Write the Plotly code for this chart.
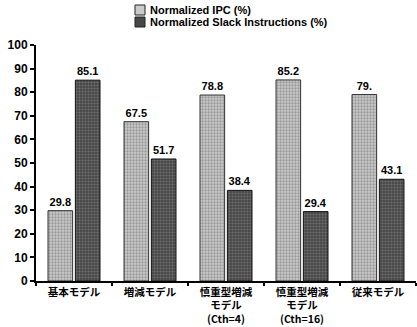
import plotly.graph_objects as go

categories = ["基本モデル", "増減モデル", "慎重型増減<br>モデル<br>(Cth=4)", "慎重型増減<br>モデル<br>(Cth=16)", "従来モデル"]
ipc = [29.8, 67.5, 78.8, 85.2, 79]
slack = [85.1, 51.7, 38.4, 29.4, 43.1]
ipc_labels = ["29.8", "67.5", "78.8", "85.2", "79."]
slack_labels = ["85.1", "51.7", "38.4", "29.4", "43.1"]
series_names = ["Normalized IPC (%)", "Normalized Slack Instructions (%)"]

ipc_marker = dict(color="#cacaca", line=dict(color="#333", width=1),
                  pattern=dict(shape=".", fgcolor="#666666", size=3, solidity=0.45))
slack_marker = dict(color="#474747", line=dict(color="#111", width=1),
                    pattern=dict(shape=".", fgcolor="#9a9a9a", size=3, solidity=0.35))
label_font = dict(family="Liberation Sans", size=11, color="black", weight="bold")

fig = go.Figure()
fig.add_trace(go.Bar(x=categories, y=ipc, name=series_names[0], text=ipc_labels,
                     textposition="outside", textfont=label_font, marker=ipc_marker,
                     cliponaxis=False, showlegend=False))
fig.add_trace(go.Bar(x=categories, y=slack, name=series_names[1], text=slack_labels,
                     textposition="outside", textfont=label_font, marker=slack_marker,
                     cliponaxis=False, showlegend=False))

# legend drawn manually (compact, two rows like the reference)
leg_rows = [(10, ipc_marker), (22, slack_marker)]
for (yc, mk), name in zip(leg_rows, series_names):
    fig.add_shape(type="rect", xref="paper", yref="paper",
                  x0=(135 - 36) / 380, x1=(145 - 36) / 380,
                  y0=(281 - yc + 5) / 236, y1=(281 - yc - 5) / 236,
                  fillcolor=mk["color"], line=dict(color="#222", width=1))
    fig.add_annotation(xref="paper", yref="paper", x=(148 - 36) / 380, y=(281 - yc) / 236,
                       xanchor="left", yanchor="middle", text=name, showarrow=False,
                       font=dict(family="Liberation Sans", size=11, color="black", weight="bold"))

fig.update_layout(
    width=417, height=327,
    margin=dict(l=36, r=1, t=45, b=46, autoexpand=False),
    paper_bgcolor="white", plot_bgcolor="white",
    barmode="group", bargap=0.28, bargroupgap=0.1,
    font=dict(family="Liberation Sans, Noto Sans CJK JP", color="black"),
    showlegend=False,
)
fig.update_yaxes(range=[0, 100], dtick=10, showgrid=False, zeroline=False,
                 showline=True, linecolor="black", linewidth=2,
                 ticks="outside", ticklen=4, tickwidth=2, tickcolor="black",
                 tickfont=dict(family="Liberation Sans", size=12, color="black", weight="bold"))
fig.update_xaxes(showgrid=False, showline=True, linecolor="black", linewidth=2,
                 ticks="outside", ticklen=3, tickwidth=2, tickcolor="black",
                 tickson="boundaries",
                 tickfont=dict(family="Noto Sans CJK JP", size=10.5, color="black", weight="bold"))

fig.write_html("out.html", config={"displayModeBar": False},
               post_script="document.body.style.margin='0';")
